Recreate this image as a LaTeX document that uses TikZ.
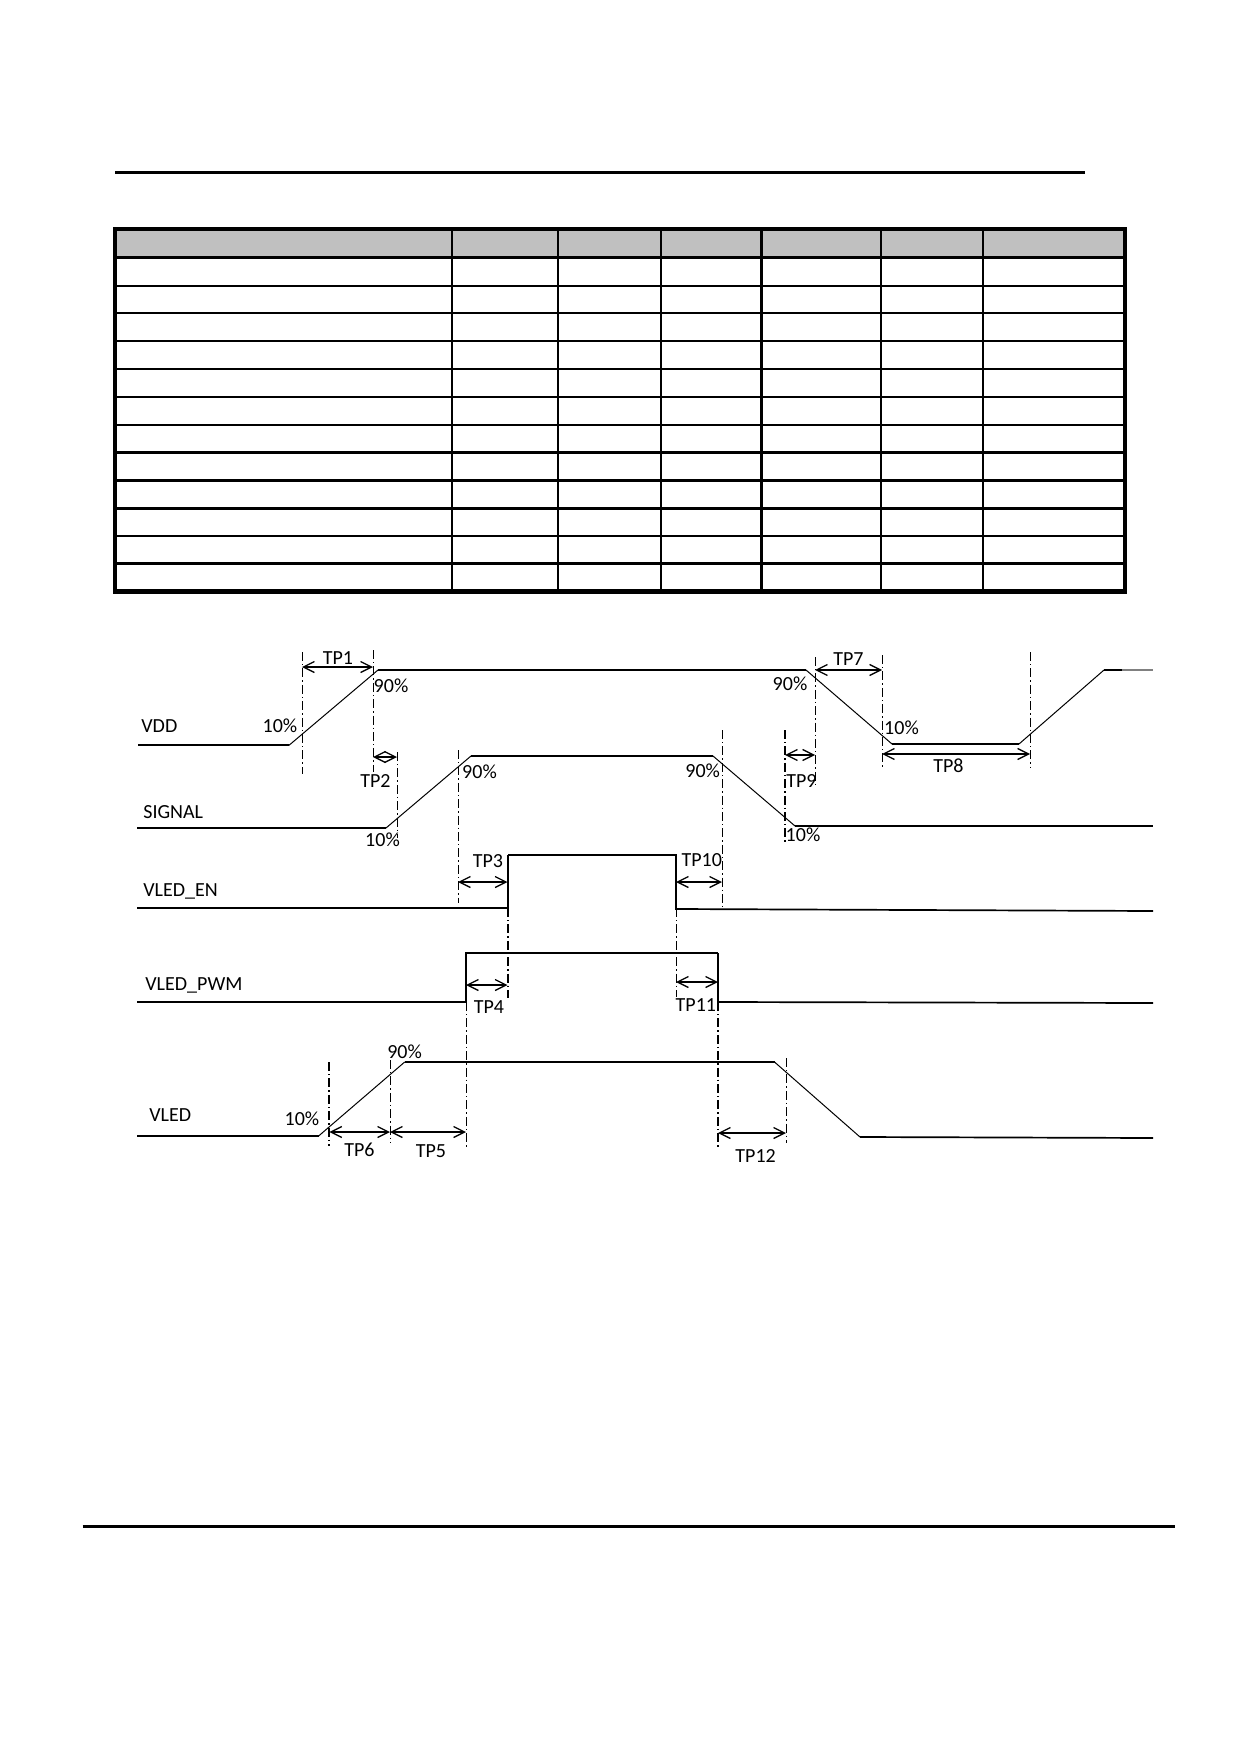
\documentclass[tikz,border=0pt]{standalone}
\usepackage{fontspec}
\setmainfont{Carlito}
\usetikzlibrary{arrows.meta}
\definecolor{headgray}{RGB}{192,192,192}
\tikzset{
  timingpic/.style={
    x=0.5pt,y=-0.5pt
    ,font=\fontsize{10}{12}\selectfont
  }
  ,pagerule/.style={line width=1.5pt}
  ,tabframe/.style={line width=2pt}
  ,tabline/.style={line width=1pt}
  ,tabbold/.style={line width=1.35pt}
  ,sig/.style={line width=0.85pt}
  ,sigthick/.style={line width=1.35pt}
  ,ramp/.style={line width=0.5pt}
  ,guide/.style={line width=0.5pt,dash pattern=on 4.5pt off 1.5pt on 0.7pt off 1.5pt}
  ,guidethick/.style={guide,line width=1pt}
  ,tparrow/.style={line width=0.65pt
    ,{Straight Barb[length=5.5pt,width=5.5pt]}-{Straight Barb[length=5.5pt,width=5.5pt]}}
  ,signame/.style={anchor=base west,inner sep=0pt}
  ,tplabel/.style={anchor=base,inner sep=0pt}
  ,pct/.style={anchor=base,inner sep=0pt}
}
\begin{document}
\begin{tikzpicture}[timingpic]
    \useasboundingbox (0,0) rectangle (1240,1754);

    % page rules
    \draw[pagerule] (115,172.3) -- (1084.7,172.3);
    \draw[pagerule,line width=1.7pt] (82.7,1526.5) -- (1175,1526.5);

    % empty table
    \fill[headgray] (115,229.3) rectangle (1124.7,257.7);
    \foreach \ry in {1,...,6}
      \draw[tabline] (115,{257.7+\ry*27.83}) -- (1124.7,{257.7+\ry*27.83});
    \foreach \ry in {7,...,11}
      \draw[tabbold] (115,{257.7+\ry*27.83}) -- (1124.7,{257.7+\ry*27.83});
    \foreach \cx in {451.7,660.7,881,982.5}
      \draw[tabline] (\cx,229.3) -- (\cx,591.7);
    \foreach \cx in {557.9,761.6}
      \draw[tabbold] (\cx,229.3) -- (\cx,591.7);
    \draw[tabbold] (115,257.7) -- (1124.7,257.7);
    \draw[tabframe] (115,229.3) rectangle (1124.7,591.7);
    \draw[tabframe,line width=2.6pt] (113.5,591.7) -- (1126.2,591.7);

    % signal names
    \node[signame] (vdd) at (141,732.7) {VDD};
    \node[signame] (signal) at (143,818.7) {SIGNAL};
    \node[signame] (vleden) at (143,896.7) {VLED\_EN};
    \node[signame] (vledpwm) at (145,990.7) {VLED\_PWM};
    \node[signame] (vled) at (149,1121) {VLED};

    % VDD
    \draw[sig] (138,745.3) -- (289,745.3);
    \draw[ramp] (289,745.3) -- (378,670);
    \draw[sigthick] (378,670) -- (806,670);
    \draw[ramp] (806,670) -- (892,744);
    \draw[sig] (892,744) -- (1019,744);
    \draw[ramp] (1019,744) -- (1104,670);
    \draw[sigthick] (1104,670) -- (1122,670);
    \draw[sigthick,gray] (1122,670) -- (1153,670);

    % SIGNAL
    \draw[sig] (137,828) -- (386,828);
    \draw[ramp] (386,828) -- (471,756);
    \draw[sig] (471,756) -- (713,756);
    \draw[ramp] (713,756) -- (795,826);
    \draw[sigthick] (795,826) -- (1153,826);

    % VLED_EN
    \draw[sig] (137,908) -- (508,908);
    \draw[sigthick] (508,908) -- (508,855);
    \draw[sig] (508,855) -- (676,855) -- (676,909) -- (1153,911);

    % VLED_PWM
    \draw[sig] (137,1002) -- (466,1002) -- (466,953) -- (718,953);
    \draw[sigthick] (718,953) -- (718,1002);
    \draw[sig] (718,1002) -- (1153,1003);

    % VLED
    \draw[sigthick] (137,1136) -- (318.6,1136);
    \draw[ramp] (318.6,1136) -- (404.7,1062);
    \draw[sig] (404.7,1062) -- (774.5,1062);
    \draw[ramp] (774.5,1062) -- (860,1137);
    \draw[sig] (860,1137) -- (1153,1138);

    % dash-dot guides
    \foreach \gname/\gx/\gtop/\gbot/\gstyle in {
      gvA/302/652/774/guide, gvB/373/650/772/guide,
      gsA/397/752/838/guide, gsB/458/750/903/guide,
      gvC/815/657/787/guide, gvD/882/655/769/guide,
      gvE/1030/652/767/guide, gsC/722/730/909/guide,
      gsD/785/730/843/guidethick, geA/507.5/908/998/guidethick,
      geB/676/908/997/guide, gpA/466/1002/1147/guide,
      gpB/718/1002/1148/guidethick, glA/329.4/1062/1146/guidethick,
      glB/390/1060/1143/guide, glC/786/1058/1143/guide}{
      \coordinate (\gname) at (\gx,\gtop);
      \draw[\gstyle] (\gname) -- (\gx,\gbot);
    }

    % timing arrows
    \foreach \from/\to/\ay in {gvA/gvB/667, gvB/gsA/757, gvC/gvD/670,
      gvD/gvE/754, gsD/gvC/755, gsB/geA/882, geB/gsC/882, gpA/geA/985,
      geB/gpB/982, glA/glB/1132, glB/gpA/1132, gpB/glC/1133}
      \draw[tparrow] (\from |- 0,\ay) -- (\to |- 0,\ay);

    % timing labels
    \node[tplabel] (tp1) at (338,664) {TP1};
    \node[tplabel] (tp2) at (375.5,787) {TP2};
    \node[tplabel] (tp3) at (488,867) {TP3};
    \node[tplabel] (tp4) at (489,1013) {TP4};
    \node[tplabel] (tp5) at (431,1157.7) {TP5};
    \node[tplabel] (tp6) at (359.5,1156.7) {TP6};
    \node[tplabel] (tp7) at (848.5,665.7) {TP7};
    \node[tplabel] (tp8) at (948.4,772) {TP8};
    \node[tplabel] (tp9) at (801.5,787) {TP9};
    \node[tplabel] (tp10) at (701.8,866.7) {TP10};
    \node[tplabel] (tp11) at (695.9,1011.7) {TP11};
    \node[tplabel] (tp12) at (755.6,1162.7) {TP12};

    % level marks
    \node[pct] (vddlo) at (280,732.7) {10\%};
    \node[pct] (vddhi) at (391,692) {90\%};
    \node[pct] (vddhib) at (790,690) {90\%};
    \node[pct] (vddlob) at (901.5,734) {10\%};
    \node[pct] (siglo) at (382.5,846) {10\%};
    \node[pct] (sighi) at (479.5,778) {90\%};
    \node[pct] (sighib) at (702.7,777) {90\%};
    \node[pct] (siglob) at (803,841) {10\%};
    \node[pct] (vledlo) at (302,1125) {10\%};
    \node[pct] (vledhi) at (404.6,1058) {90\%};
\end{tikzpicture}
\end{document}
